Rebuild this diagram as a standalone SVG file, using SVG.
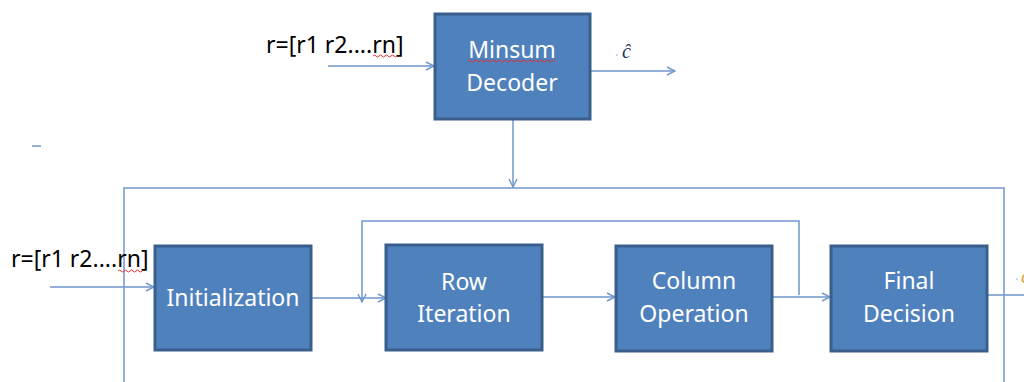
<svg xmlns="http://www.w3.org/2000/svg" width="1024" height="382" viewBox="0 0 1024 382">
  <defs>
    <marker id="arr" viewBox="0 0 10 10" refX="9" refY="5" markerWidth="10" markerHeight="10" markerUnits="userSpaceOnUse" orient="auto">
      <path d="M1,1 L9,5 L1,9" fill="none" stroke="#6F97CB" stroke-width="1.4"/>
    </marker>
    <style>
      .box { fill: #4F81BD; stroke: #3B5F8C; stroke-width: 3; }
      .lbl { font-family: "Noto Sans", "Open Sans", sans-serif; font-size: 23px; fill: #FFFFFF; text-anchor: middle; }
      .in { font-family: "Noto Sans", "Open Sans", sans-serif; font-size: 23px; fill: #000000; }
      .ln { fill: none; stroke: #6F97CB; stroke-width: 1.5; }
      .sq { fill: none; stroke: #E03030; stroke-width: 1; }
      .hat { font-family: "Liberation Serif", serif; font-style: italic; font-size: 20px; }
    </style>
  </defs>

  <rect width="1024" height="382" fill="#FFFFFF"/>

  <!-- connectors -->
  <g id="connectors">
    <!-- outer frame -->
    <path class="ln" d="M124,382 V188 H1004 V382"/>
    <!-- inner feedback loop -->
    <path class="ln" d="M799,295 V221 H362 V302" marker-end="url(#arr)"/>
    <!-- top decoder -->
    <line class="ln" x1="328" y1="66" x2="434" y2="66" marker-end="url(#arr)"/>
    <line class="ln" x1="590" y1="71" x2="675" y2="71" marker-end="url(#arr)"/>
    <line class="ln" x1="513" y1="120" x2="513" y2="187" marker-end="url(#arr)"/>
    <!-- processing chain -->
    <line class="ln" x1="50" y1="287" x2="154" y2="287" marker-end="url(#arr)"/>
    <line class="ln" x1="311" y1="298" x2="386" y2="298" marker-end="url(#arr)"/>
    <line class="ln" x1="542" y1="297" x2="615" y2="297" marker-end="url(#arr)"/>
    <line class="ln" x1="772" y1="297" x2="830" y2="297" marker-end="url(#arr)"/>
    <line class="ln" x1="987" y1="295" x2="1024" y2="295"/>
    <!-- stray dash -->
    <line class="ln" x1="32" y1="146" x2="41" y2="146"/>
  </g>

  <!-- input labels -->
  <g id="input-top">
    <text class="in" x="266" y="53">r=[r1 r2....rn]</text>
    <path class="sq" d="M373,56 q1.5,-2 3,0 t3,0 t3,0 t3,0 t3,0 t3,0 t3,0 t3,0"/>
  </g>
  <g id="input-bottom">
    <text class="in" x="11" y="267">r=[r1 r2....rn]</text>
    <path class="sq" d="M118,271 q1.5,-2 3,0 t3,0 t3,0 t3,0 t3,0 t3,0 t3,0 t3,0"/>
  </g>

  <!-- decoder output estimate -->
  <g id="output-top">
    <circle cx="617" cy="55" r="0.8" fill="#8FA8C8"/>
    <text class="hat" x="622" y="58" fill="#1F3357">ĉ</text>
  </g>
  <g id="output-bottom">
    <circle cx="1017" cy="279" r="0.8" fill="#8FA8C8"/>
    <text class="hat" x="1021" y="283" fill="#D9A441">ĉ</text>
  </g>

  <g id="minsum-decoder">
    <rect class="box" x="435" y="14" width="155" height="105"/>
    <text class="lbl" x="512" y="58">Minsum</text>
    <path class="sq" d="M468,61 q1.5,-2 3,0 t3,0 t3,0 t3,0 t3,0 t3,0 t3,0 t3,0 t3,0 t3,0 t3,0 t3,0 t3,0 t3,0 t3,0 t3,0 t3,0 t3,0 t3,0 t3,0 t3,0 t3,0 t3,0 t3,0 t3,0 t3,0 t3,0 t3,0 t3,0"/>
    <text class="lbl" x="512" y="91">Decoder</text>
  </g>

  <g id="initialization">
    <rect class="box" x="155" y="246" width="156" height="104"/>
    <text class="lbl" x="233" y="306">Initialization</text>
  </g>

  <g id="row-iteration">
    <rect class="box" x="386" y="245" width="156" height="105"/>
    <text class="lbl" x="464" y="290">Row</text>
    <text class="lbl" x="464" y="322">Iteration</text>
  </g>

  <g id="column-operation">
    <rect class="box" x="616" y="246" width="156" height="105"/>
    <text class="lbl" x="694" y="289">Column</text>
    <text class="lbl" x="694" y="322">Operation</text>
  </g>

  <g id="final-decision">
    <rect class="box" x="831" y="246" width="156" height="105"/>
    <text class="lbl" x="909" y="289">Final</text>
    <text class="lbl" x="909" y="322">Decision</text>
  </g>
</svg>
